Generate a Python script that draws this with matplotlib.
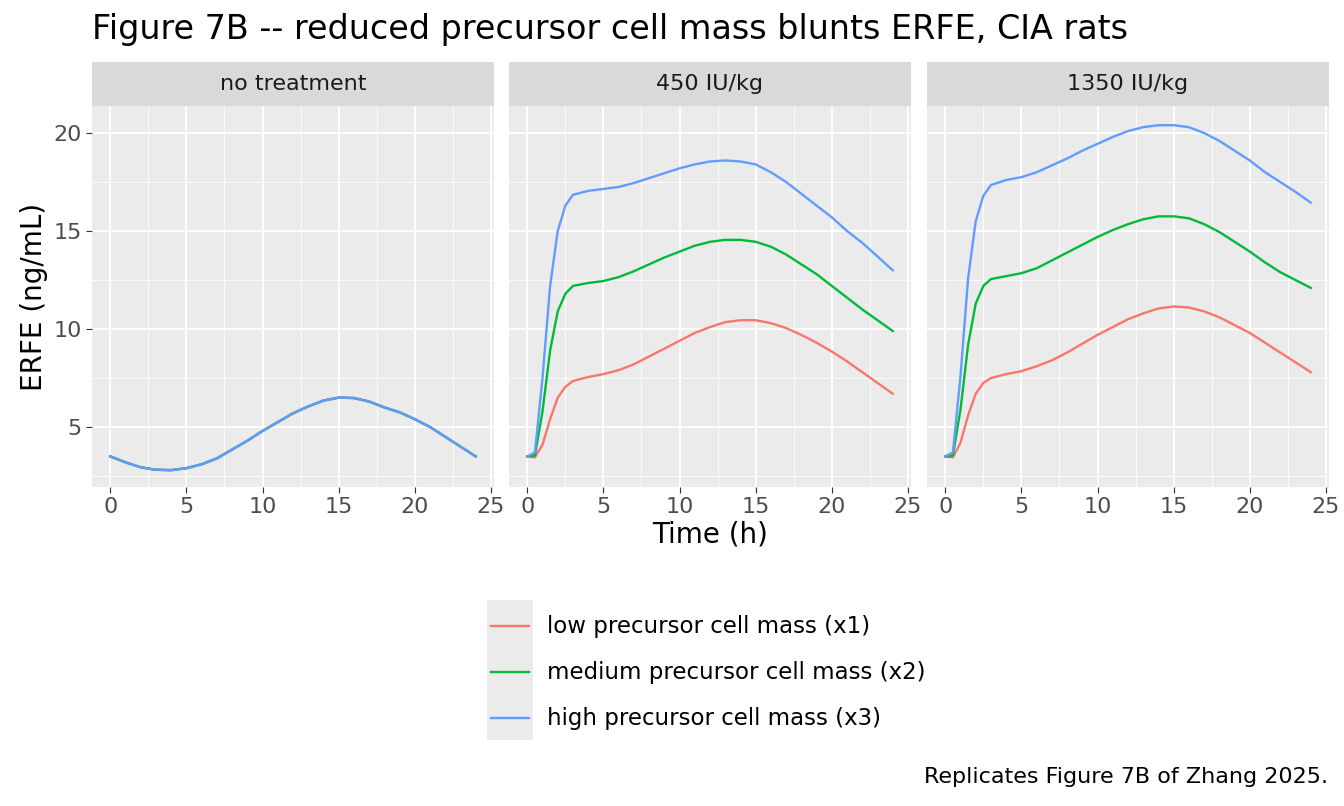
import numpy as np
import matplotlib.pyplot as plt
from matplotlib.lines import Line2D

# time grid (h)
t = [0, 0.5, 1, 1.5, 2, 2.5, 3, 4, 5, 6, 7, 8, 9, 10, 11, 12, 13, 14, 15, 16, 17, 18, 19, 20, 21, 22, 23, 24]

panels = ["no treatment", "450 IU/kg", "1350 IU/kg"]
series_names = ["low precursor cell mass (x1)", "medium precursor cell mass (x2)", "high precursor cell mass (x3)"]
colors = ["#F8766D", "#00BA38", "#619CFF"]

none_all = [3.5, 3.35, 3.2, 3.07, 2.95, 2.88, 2.82, 2.8, 2.9, 3.1, 3.4, 3.85, 4.3, 4.8, 5.25, 5.7, 6.05, 6.35, 6.5, 6.48, 6.3, 6.0, 5.75, 5.4, 5.0, 4.5, 4.0, 3.5]

low_450 = [3.5, 3.45, 4.1, 5.4, 6.5, 7.05, 7.35, 7.55, 7.7, 7.9, 8.2, 8.6, 9.0, 9.4, 9.8, 10.1, 10.35, 10.45, 10.45, 10.3, 10.05, 9.7, 9.3, 8.85, 8.35, 7.8, 7.25, 6.7]
med_450 = [3.5, 3.55, 5.8, 8.9, 10.9, 11.8, 12.2, 12.35, 12.45, 12.65, 12.95, 13.3, 13.65, 13.95, 14.25, 14.45, 14.55, 14.55, 14.45, 14.2, 13.8, 13.3, 12.8, 12.2, 11.6, 11.0, 10.45, 9.9]
high_450 = [3.5, 3.7, 7.5, 12.2, 15.0, 16.3, 16.85, 17.05, 17.15, 17.25, 17.45, 17.7, 17.95, 18.2, 18.4, 18.55, 18.6, 18.55, 18.4, 18.0, 17.5, 16.9, 16.3, 15.7, 15.0, 14.4, 13.7, 13.0]

low_1350 = [3.5, 3.45, 4.2, 5.6, 6.7, 7.25, 7.5, 7.7, 7.85, 8.1, 8.4, 8.8, 9.25, 9.7, 10.1, 10.5, 10.8, 11.05, 11.15, 11.1, 10.9, 10.6, 10.2, 9.8, 9.3, 8.8, 8.3, 7.8]
med_1350 = [3.5, 3.55, 5.9, 9.2, 11.3, 12.2, 12.55, 12.7, 12.85, 13.1, 13.5, 13.9, 14.3, 14.7, 15.05, 15.35, 15.6, 15.75, 15.75, 15.65, 15.35, 14.95, 14.45, 13.95, 13.4, 12.9, 12.5, 12.1]
high_1350 = [3.5, 3.7, 7.6, 12.6, 15.5, 16.8, 17.35, 17.6, 17.75, 18.0, 18.35, 18.7, 19.1, 19.45, 19.8, 20.1, 20.3, 20.4, 20.4, 20.3, 20.0, 19.6, 19.1, 18.6, 18.0, 17.5, 17.0, 16.45]

data = [
    [none_all, none_all, none_all],
    [low_450, med_450, high_450],
    [low_1350, med_1350, high_1350],
]

W, H = 1344, 806
fig = plt.figure(figsize=(W / 100, H / 100), dpi=100)
lefts = [92, 509, 927]
pw = 402
ptop, pbot = 106, 487

for i, (name, ser) in enumerate(zip(panels, data)):
    ax = fig.add_axes([lefts[i] / W, 1 - pbot / H, pw / W, (pbot - ptop) / H])
    ax.set_facecolor("#EBEBEB")
    for s, c in zip(ser, colors):
        ax.plot(t, s, color=c, lw=1.7)
    ax.set_xlim(-1.2, 25.2)
    ax.set_ylim(1.94, 21.38)
    ax.set_xticks([0, 5, 10, 15, 20, 25])
    ax.set_yticks([5, 10, 15, 20])
    ax.set_xticks([2.5, 7.5, 12.5, 17.5, 22.5], minor=True)
    ax.set_yticks([2.5, 7.5, 12.5, 17.5], minor=True)
    ax.grid(True, which="major", color="white", lw=1.3)
    ax.grid(True, which="minor", color="white", lw=0.6)
    ax.set_axisbelow(True)
    for sp in ax.spines.values():
        sp.set_visible(False)
    ax.tick_params(which="major", length=4, color="#333333", labelsize=16, labelcolor="#4D4D4D")
    ax.tick_params(which="minor", length=0)
    if i > 0:
        ax.tick_params(axis="y", labelleft=False, length=0)
    else:
        ax.set_ylabel("ERFE (ng/mL)", fontsize=20)
    if i == 1:
        ax.set_xlabel("Time (h)", fontsize=20, labelpad=2)
    sax = fig.add_axes([lefts[i] / W, 1 - ptop / H, pw / W, 44 / H])
    sax.set_facecolor("#D9D9D9")
    sax.set_xticks([]); sax.set_yticks([])
    for sp in sax.spines.values():
        sp.set_visible(False)
    sax.text(0.5, 0.5, name, ha="center", va="center", fontsize=16, color="#1A1A1A", transform=sax.transAxes)

fig.text(92 / W, 1 - 30 / H, "Figure 7B -- reduced precursor cell mass blunts ERFE, CIA rats", fontsize=24, va="center")

# legend
lax = fig.add_axes([487 / W, 1 - 740 / H, 46 / W, 140 / H])
lax.set_facecolor("#EBEBEB")
lax.set_xticks([]); lax.set_yticks([])
for sp in lax.spines.values():
    sp.set_visible(False)
for k, (n, c) in enumerate(zip(series_names, colors)):
    y = 1 - (626 + 46 * k) / H
    fig.add_artist(Line2D([491 / W, 529 / W], [y, y], color=c, lw=1.7))
    fig.text(547 / W, y, n, fontsize=16.5, va="center")

fig.text(1328 / W, 1 - 777 / H, "Replicates Figure 7B of Zhang 2025.", fontsize=16, ha="right", va="center")

fig.savefig("out.png", dpi=100)
